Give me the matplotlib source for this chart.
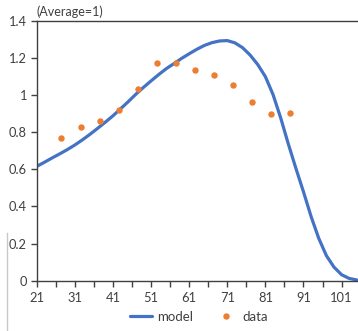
import matplotlib
matplotlib.use("Agg")
import matplotlib.pyplot as plt
from matplotlib.lines import Line2D

plt.rcParams['font.family'] = ['Lato', 'DejaVu Sans']

# model curve (every 2 years)
model_age = [21, 23, 25, 27, 29, 31, 33, 35, 37, 39, 41, 43, 45, 47, 49, 51, 53, 55,
             57, 59, 61, 63, 65, 67, 69, 71, 73, 75, 77, 79, 81, 83, 85, 87, 89, 91,
             93, 95, 97, 99, 101, 103, 105]
model_val = [0.615, 0.637, 0.660, 0.682, 0.705, 0.730, 0.758, 0.788, 0.820, 0.853,
             0.887, 0.925, 0.963, 1.003, 1.040, 1.075, 1.109, 1.141, 1.168, 1.196,
             1.221, 1.245, 1.266, 1.281, 1.290, 1.292, 1.280, 1.254, 1.214, 1.163,
             1.098, 1.002, 0.877, 0.737, 0.605, 0.478, 0.345, 0.228, 0.135, 0.073,
             0.032, 0.012, 0.004]

# observed data points
data_age = [27.5, 32.5, 37.5, 42.5, 47.5, 52.5, 57.5, 62.5, 67.5, 72.5, 77.5, 82.5, 87.5]
data_val = [0.767, 0.826, 0.860, 0.919, 1.032, 1.174, 1.174, 1.135, 1.108, 1.054,
            0.959, 0.898, 0.901]

xticks = [21, 31, 41, 51, 61, 71, 81, 91, 101]
yticks = [0, 0.2, 0.4, 0.6, 0.8, 1, 1.2, 1.4]
ytick_labels = ['0', '0.2', '0.4', '0.6', '0.8', '1', '1.2', '1.4']

fig = plt.figure(figsize=(3.58, 3.31), dpi=100)
ax = fig.add_axes([0.1025, 0.152, 0.8975, 0.786])

ax.plot(model_age, model_val, color='#4472C4', linewidth=2.3, label='model',
        solid_capstyle='round', solid_joinstyle='round')
ax.plot(data_age, data_val, linestyle='none', marker='o', markersize=4.6,
        color='#ED7D31', markeredgecolor='none', label='data')

ax.set_xlim(21, 105.3)
ax.set_ylim(0, 1.4)
ax.set_xticks(xticks)
ax.set_xticks(range(21, 106, 5), minor=True)
ax.set_yticks(yticks)
ax.set_yticklabels(ytick_labels)

for s in ['left', 'bottom', 'top']:
    ax.spines[s].set_color('#404040')
    ax.spines[s].set_linewidth(1.0)
ax.spines['right'].set_visible(False)

ax.tick_params(axis='both', which='both', direction='out', length=4, width=1,
               color='#404040', labelsize=9.3, labelcolor='#404040')
ax.tick_params(axis='x', which='major', pad=4)
ax.tick_params(axis='y', pad=3)
ax.tick_params(axis='x', which='minor', labelbottom=False)

fig.text(0.1025, 0.945, '(Average=1)', fontsize=9, color='#404040',
         ha='left', va='bottom')

ax.legend(loc='upper center', bbox_to_anchor=(0.505, -0.07), ncol=2, frameon=False,
          fontsize=9.5, handlelength=1.7, columnspacing=1.6, handletextpad=0.4,
          labelcolor='#404040')

# stray grey line at the left edge of the picture
fig.add_artist(Line2D([6.7 / 358, 6.7 / 358], [0, 1 - 233 / 331],
                      transform=fig.transFigure, color='#c8c8c8', linewidth=1))

fig.savefig('out.png', dpi=100)
